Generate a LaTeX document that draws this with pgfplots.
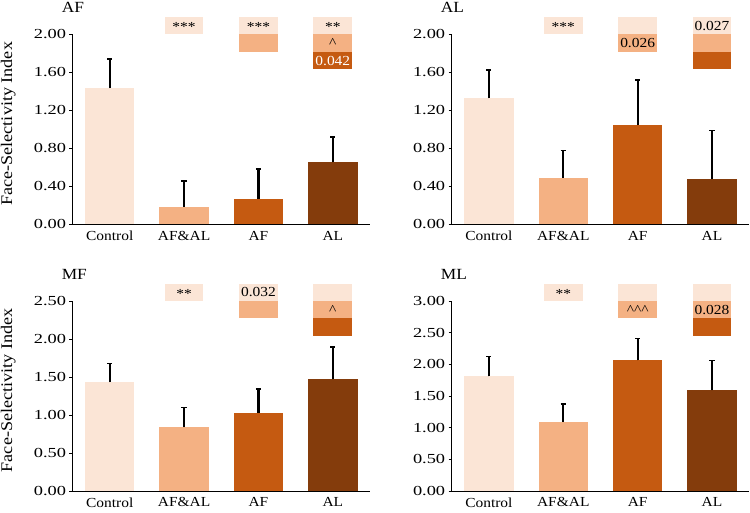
\documentclass[border=0pt]{standalone}
\usepackage{fontspec}
\setmainfont{Liberation Serif}[FakeStretch=1.12]
\newfontfamily\numfont{Liberation Serif}[FakeStretch=1.33]
\usepackage{pgfplots}
\pgfplotsset{compat=1.18}
\definecolor{cA}{HTML}{FBE5D6}
\definecolor{cB}{HTML}{F4B183}
\definecolor{cC}{HTML}{C55A11}
\definecolor{cD}{HTML}{843C0C}
\newcommand{\ticksize}{\numfont\fontsize{13.8}{15}\selectfont}
\newcommand{\catsize}{\fontsize{13.8}{15}\selectfont}
\newcommand{\boxsize}{\fontsize{13.8}{15}\selectfont}
\newcommand{\titlesize}{\fontsize{15.5}{17}\selectfont}
\newcommand{\labelsize}{\fontsize{16.2}{19}\selectfont}
\pgfplotsset{
  every axis title shift=0pt,
  panel/.style={
    scale only axis, width=297.5pt, height=190pt,
    xmin=-0.5, xmax=3.5, ymin=0,
    axis lines*=left,
    axis line style={line width=0.9pt, black},
    xtick={0,1,2,3}, xticklabels={Control,AF\&AL,AF,AL},
    x tick style={draw=none},
    xticklabel style={font=\catsize},
    tick align=outside, major tick length=3pt,
    y tick style={line width=0.9pt, black},
    yticklabel style={font=\ticksize, /pgf/number format/.cd, fixed, fixed zerofill, precision=2, assume math mode=true},
    title style={at={(axis description cs:-0.048,1.115)}, anchor=base west, font=\titlesize},
    ylabel style={at={(axis description cs:-0.216,0.53)}, anchor=center, font=\labelsize},
    clip=false,
  },
  barstyle/.style={ybar, bar width=0.665, bar shift=0pt, draw=none,
    /pgfplots/error bars/y dir=plus, /pgfplots/error bars/y explicit,
    /pgfplots/error bars/error bar style={line width=2.2pt, black},
    /pgfplots/error bars/error mark options={rotate=90, line width=1.6pt, mark size=2.6pt, black}},
  boxstyle/.style={fill=#1, draw=none, forget plot},
}
\begin{document}
\begin{tikzpicture}
\useasboundingbox (0,0) rectangle (750pt,513pt);
% ---------------- AF ----------------
\begin{axis}[panel, at={(72.5pt,288.5pt)}, anchor=south west,
  ymax=2, ytick={0,0.4,0.8,1.2,1.6,2.0}, title={AF}, ylabel={Face-Selectivity Index}]
\addplot[barstyle, fill=cA] coordinates {(0,1.436) +- (0,0.306)};
\addplot[barstyle, fill=cB] coordinates {(1,0.188) +- (0,0.269)};
\addplot[barstyle, fill=cC] coordinates {(2,0.272) +- (0,0.313)};
\addplot[barstyle, fill=cD] coordinates {(3,0.655) +- (0,0.265)};
\addplot[boxstyle=cA] coordinates {(0.74,2) (1.26,2) (1.26,2.184) (0.74,2.184)} -- cycle;
\addplot[boxstyle=cA] coordinates {(1.74,2) (2.26,2) (2.26,2.184) (1.74,2.184)} -- cycle;
\addplot[boxstyle=cB] coordinates {(1.74,1.816) (2.26,1.816) (2.26,2) (1.74,2)} -- cycle;
\addplot[boxstyle=cA] coordinates {(2.74,2) (3.26,2) (3.26,2.184) (2.74,2.184)} -- cycle;
\addplot[boxstyle=cB] coordinates {(2.74,1.816) (3.26,1.816) (3.26,2) (2.74,2)} -- cycle;
\addplot[boxstyle=cC] coordinates {(2.74,1.632) (3.26,1.632) (3.26,1.816) (2.74,1.816)} -- cycle;
\node[font=\boxsize, yshift=-1.5pt] at (axis cs:1,2.092) {***};
\node[font=\boxsize, yshift=-1.5pt] at (axis cs:2,2.092) {***};
\node[font=\boxsize, yshift=-1.5pt] at (axis cs:3,2.092) {**};
\node[font=\boxsize] at (axis cs:3,1.908) {\textasciicircum};
\node[font=\boxsize, text=white] at (axis cs:3,1.724) {0.042};
\end{axis}
% ---------------- AL ----------------
\begin{axis}[panel, at={(451.7pt,288.5pt)}, anchor=south west,
  ymax=2, ytick={0,0.4,0.8,1.2,1.6,2.0}, title={AL}]
\addplot[barstyle, fill=cA] coordinates {(0,1.331) +- (0,0.296)};
\addplot[barstyle, fill=cB] coordinates {(1,0.491) +- (0,0.286)};
\addplot[barstyle, fill=cC] coordinates {(2,1.045) +- (0,0.474)};
\addplot[barstyle, fill=cD] coordinates {(3,0.474) +- (0,0.516)};
\addplot[boxstyle=cA] coordinates {(0.74,2) (1.26,2) (1.26,2.184) (0.74,2.184)} -- cycle;
\addplot[boxstyle=cA] coordinates {(1.74,2) (2.26,2) (2.26,2.184) (1.74,2.184)} -- cycle;
\addplot[boxstyle=cB] coordinates {(1.74,1.816) (2.26,1.816) (2.26,2) (1.74,2)} -- cycle;
\addplot[boxstyle=cA] coordinates {(2.74,2) (3.26,2) (3.26,2.184) (2.74,2.184)} -- cycle;
\addplot[boxstyle=cB] coordinates {(2.74,1.816) (3.26,1.816) (3.26,2) (2.74,2)} -- cycle;
\addplot[boxstyle=cC] coordinates {(2.74,1.632) (3.26,1.632) (3.26,1.816) (2.74,1.816)} -- cycle;
\node[font=\boxsize, yshift=-1.5pt] at (axis cs:1,2.092) {***};
\node[font=\boxsize] at (axis cs:2,1.908) {0.026};
\node[font=\boxsize] at (axis cs:3,2.092) {0.027};
\end{axis}
% ---------------- MF ----------------
\begin{axis}[panel, at={(72.5pt,22pt)}, anchor=south west,
  ymax=2.5, ytick={0,0.5,1.0,1.5,2.0,2.5}, title={MF}, ylabel={Face-Selectivity Index}]
\addplot[barstyle, fill=cA] coordinates {(0,1.434) +- (0,0.241)};
\addplot[barstyle, fill=cB] coordinates {(1,0.838) +- (0,0.263)};
\addplot[barstyle, fill=cC] coordinates {(2,1.031) +- (0,0.311)};
\addplot[barstyle, fill=cD] coordinates {(3,1.469) +- (0,0.426)};
\addplot[boxstyle=cA] coordinates {(0.74,2.5) (1.26,2.5) (1.26,2.73) (0.74,2.73)} -- cycle;
\addplot[boxstyle=cA] coordinates {(1.74,2.5) (2.26,2.5) (2.26,2.73) (1.74,2.73)} -- cycle;
\addplot[boxstyle=cB] coordinates {(1.74,2.27) (2.26,2.27) (2.26,2.5) (1.74,2.5)} -- cycle;
\addplot[boxstyle=cA] coordinates {(2.74,2.5) (3.26,2.5) (3.26,2.73) (2.74,2.73)} -- cycle;
\addplot[boxstyle=cB] coordinates {(2.74,2.27) (3.26,2.27) (3.26,2.5) (2.74,2.5)} -- cycle;
\addplot[boxstyle=cC] coordinates {(2.74,2.04) (3.26,2.04) (3.26,2.27) (2.74,2.27)} -- cycle;
\node[font=\boxsize, yshift=-1.5pt] at (axis cs:1,2.615) {**};
\node[font=\boxsize] at (axis cs:2,2.615) {0.032};
\node[font=\boxsize] at (axis cs:3,2.385) {\textasciicircum};
\end{axis}
% ---------------- ML ----------------
\begin{axis}[panel, at={(451.7pt,22pt)}, anchor=south west,
  ymax=3, ytick={0,0.5,1.0,1.5,2.0,2.5,3.0}, title={ML}]
\addplot[barstyle, fill=cA] coordinates {(0,1.811) +- (0,0.310)};
\addplot[barstyle, fill=cB] coordinates {(1,1.089) +- (0,0.285)};
\addplot[barstyle, fill=cC] coordinates {(2,2.063) +- (0,0.347)};
\addplot[barstyle, fill=cD] coordinates {(3,1.589) +- (0,0.474)};
\addplot[boxstyle=cA] coordinates {(0.74,3) (1.26,3) (1.26,3.276) (0.74,3.276)} -- cycle;
\addplot[boxstyle=cA] coordinates {(1.74,3) (2.26,3) (2.26,3.276) (1.74,3.276)} -- cycle;
\addplot[boxstyle=cB] coordinates {(1.74,2.724) (2.26,2.724) (2.26,3) (1.74,3)} -- cycle;
\addplot[boxstyle=cA] coordinates {(2.74,3) (3.26,3) (3.26,3.276) (2.74,3.276)} -- cycle;
\addplot[boxstyle=cB] coordinates {(2.74,2.724) (3.26,2.724) (3.26,3) (2.74,3)} -- cycle;
\addplot[boxstyle=cC] coordinates {(2.74,2.448) (3.26,2.448) (3.26,2.724) (2.74,2.724)} -- cycle;
\node[font=\boxsize, yshift=-1.5pt] at (axis cs:1,3.138) {**};
\node[font=\boxsize] at (axis cs:2,2.862) {\textasciicircum\textasciicircum\textasciicircum};
\node[font=\boxsize] at (axis cs:3,2.862) {0.028};
\end{axis}
\end{tikzpicture}
\end{document}
